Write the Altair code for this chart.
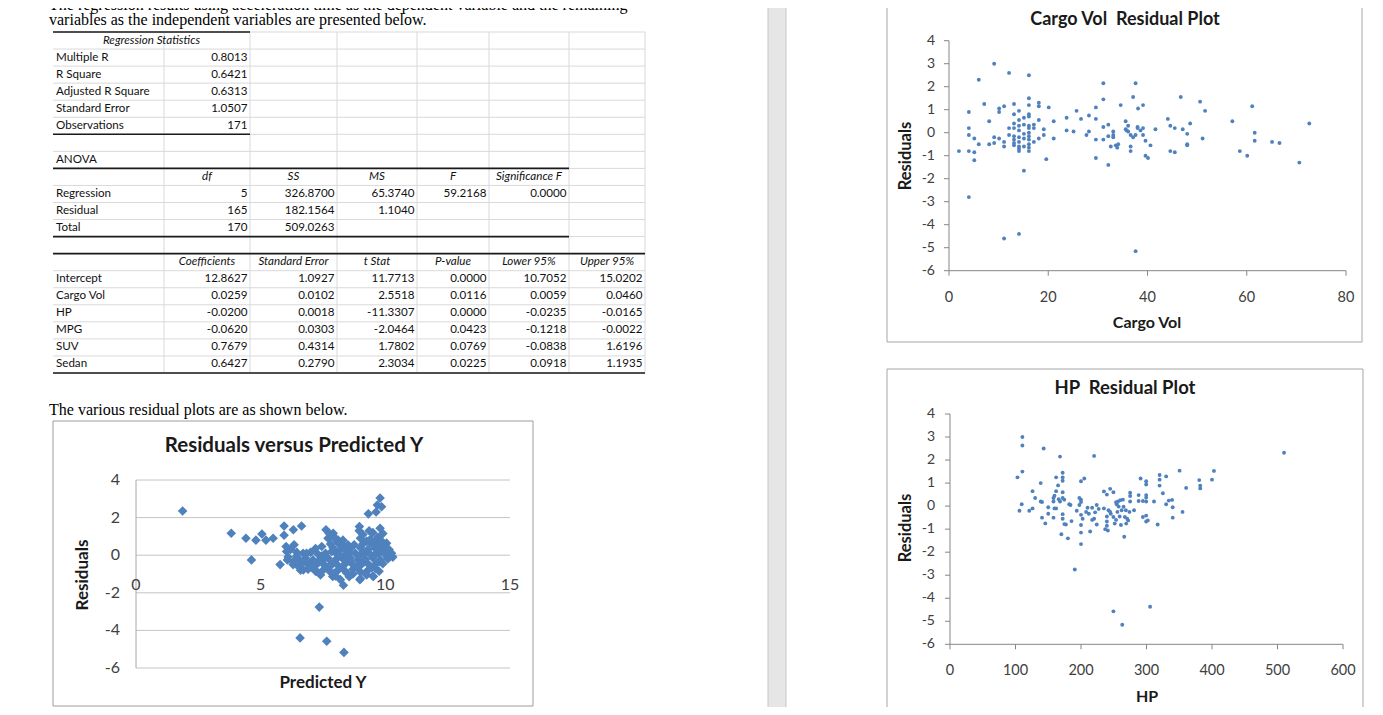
import altair as alt
import pandas as pd

# ---------------- document text ----------------
INTRO_1 = "The regression results using acceleration time as the dependent variable and the remaining"
INTRO_2 = "variables as the independent variables are presented below."
CAPTION = "The various residual plots are as shown below."

# ---------------- regression table ----------------
reg_stat_header = "Regression Statistics"
reg_stat_labels = ["Multiple R", "R Square", "Adjusted R Square", "Standard Error", "Observations"]
reg_stat_values = ["0.8013", "0.6421", "0.6313", "1.0507", "171"]

anova_title = "ANOVA"
anova_headers = ["df", "SS", "MS", "F", "Significance F"]
anova_rows = ["Regression", "Residual", "Total"]
anova_df = ["5", "165", "170"]
anova_ss = ["326.8700", "182.1564", "509.0263"]
anova_ms = ["65.3740", "1.1040", ""]
anova_f = ["59.2168", "", ""]
anova_sig = ["0.0000", "", ""]

coef_headers = ["Coefficients", "Standard Error", "t Stat", "P-value", "Lower 95%", "Upper 95%"]
coef_rows = ["Intercept", "Cargo Vol", "HP", "MPG", "SUV", "Sedan"]
coefficients = ["12.8627", "0.0259", "-0.0200", "-0.0620", "0.7679", "0.6427"]
std_errors = ["1.0927", "0.0102", "0.0018", "0.0303", "0.4314", "0.2790"]
t_stats = ["11.7713", "2.5518", "-11.3307", "-2.0464", "1.7802", "2.3034"]
p_values = ["0.0000", "0.0116", "0.0000", "0.0423", "0.0769", "0.0225"]
lower95 = ["10.7052", "0.0059", "-0.0235", "-0.1218", "-0.0838", "0.0918"]
upper95 = ["15.0202", "0.0460", "-0.0165", "-0.0022", "1.6196", "1.1935"]

# ---------------- chart texts / ticks ----------------
pred_title = "Residuals versus Predicted Y"
pred_xtitle = "Predicted Y"
cargo_title = "Cargo Vol\u00a0 Residual Plot"
cargo_xtitle = "Cargo Vol"
hp_title = "HP\u00a0 Residual Plot"
hp_xtitle = "HP"
resid_title = "Residuals"

pred_xticks = [0, 5, 10, 15]
pred_yticks = [-6, -4, -2, 0, 2, 4]
cargo_xticks = [0, 20, 40, 60, 80]
hp_xticks = [0, 100, 200, 300, 400, 500, 600]
resid_yticks = [-6, -5, -4, -3, -2, -1, 0, 1, 2, 3, 4]

# ---------------- residual data ----------------
# (predicted Y, residual)
pred_points = [
    (1.87, 2.35), (3.82, 1.17), (4.41, 0.9), (4.63, -0.25), (4.81, 0.8), (5.05, 1.13), (5.21, 0.8),
    (5.5, 0.9), (5.78, -0.5), (5.94, 1.55), (5.94, 1.06), (6.02, 0.46), (6.04, 0.2), (6.07, -0.25),
    (6.31, 1.35), (6.34, 0.55), (6.44, -0.05), (6.51, -0.6), (6.64, 1.55), (6.58, -4.4), (6.71, -0.78),
    (6.84, 0.1), (6.98, -0.42), (7.11, -0.6), (7.25, -0.85), (7.35, -2.76), (7.45, 0.46), (7.51, -0.25),
    (7.62, 1.35), (7.65, -4.58), (7.78, -0.6), (7.89, -1.13), (7.91, 1.17), (8.11, 0.8), (8.32, -1.6),
    (8.34, -5.17), (8.45, -0.95), (8.96, 1.52), (8.98, -1.3), (9.32, 2.2), (9.52, -1.13), (9.63, 2.3),
    (9.68, 2.67), (9.79, 3.04), (9.85, 2.58), (9.79, 1.43), (10.05, 0.64), (10.25, 0.1),
    (6.6, -0.8), (6.9, -0.75), (7.2, -0.85), (7.5, -0.8), (7.8, -0.9), (8.1, -0.8), (8.4, -0.85),
    (8.7, -0.75), (9.0, -0.9), (9.3, -0.8), (9.6, -0.7),
    (6.3, -0.5), (6.6, -0.45), (6.9, -0.5), (7.2, -0.55), (7.5, -0.45), (7.8, -0.5), (8.1, -0.55),
    (8.4, -0.45), (8.7, -0.5), (9.0, -0.55), (9.3, -0.45), (9.6, -0.5), (9.9, -0.45),
    (6.5, -0.2), (6.8, -0.15), (7.1, -0.25), (7.4, -0.2), (7.7, -0.15), (8.0, -0.25), (8.3, -0.2),
    (8.6, -0.15), (8.9, -0.25), (9.2, -0.2), (9.5, -0.15), (9.8, -0.25), (10.1, -0.2),
    (6.7, 0.1), (7.0, 0.15), (7.3, 0.05), (7.6, 0.1), (8.0, 0.15), (8.4, 0.05), (8.8, 0.1),
    (9.1, 0.15), (9.4, 0.05), (9.7, 0.1), (10.0, 0.15),
    (7.2, 0.35), (7.9, 0.4), (8.2, 0.3), (8.6, 0.35), (9.0, 0.4), (9.3, 0.3), (9.6, 0.35), (9.9, 0.4),
    (7.8, 0.6), (8.1, 0.65), (8.5, 0.55), (9.1, 0.6), (9.4, 0.65), (9.8, 0.55),
    (7.7, 0.9), (8.0, 0.85), (8.3, 0.8), (9.0, 0.9), (9.4, 0.85), (9.7, 0.95),
    (7.75, 1.15), (9.1, 1.1), (9.5, 1.2), (9.9, 1.15), (8.95, 1.3), (9.35, 1.3),
    (7.4, -1.05), (8.0, -1.1), (8.7, -1.0), (9.25, -1.05), (9.5, -1.1), (8.2, -1.3), (9.0, -1.25),
    (6.1, -0.1), (6.2, 0.3), (6.3, -0.35), (6.45, 0.15), (7.9, 1.05), (8.1, 0.75), (8.3, 0.5),
    (8.45, 0.25), (10.2, 0.05), (10.3, -0.1),
    (6.75, -0.3), (7.05, -0.65), (7.35, -0.35), (7.65, -0.65), (7.95, -0.35), (8.25, -0.65),
    (8.55, -0.3), (8.85, -0.65), (9.15, -0.35), (9.45, -0.65), (9.75, -0.35), (10.05, -0.05),
    (7.45, -0.05), (7.85, 0.2), (8.15, 0.0), (8.55, 0.15), (8.95, -0.05), (9.25, 0.2), (9.55, 0.0),
    (9.85, 0.2), (8.75, 0.55), (9.25, 0.75), (9.55, 0.5), (9.65, 0.8), (9.2, -0.95), (8.55, -1.15),
    (7.95, -0.95), (9.75, -0.85), (9.85, 0.75), (10.15, 0.3),
]

# (cargo volume, residual)
cargo_points = [
    (2.0, -0.8), (4.0, 0.9), (4.0, 0.2), (4.0, -0.1), (4.0, -0.8), (4.0, -2.8), (5.1, -0.25), (5.1, -0.85),
    (5.1, -1.2), (6.0, 2.3), (6.0, -0.5), (7.1, 1.25), (8.1, 0.5), (8.1, -0.5), (9.1, 3.0), (9.1, -0.2),
    (9.1, -0.45), (10.1, 1.05), (10.1, 0.9), (10.1, -0.25), (11.1, 1.15), (11.1, -0.4), (11.1, -0.6),
    (11.1, -4.6), (12.1, 2.6), (12.1, 0.2), (12.1, -0.1), (13.1, 1.25), (13.1, 0.8), (13.1, 0.4),
    (13.1, 0.2), (13.1, -0.15), (13.1, -0.3), (13.1, -0.45), (13.1, -0.55), (14.1, 0.95), (14.1, 0.55),
    (14.1, 0.3), (14.1, 0.1), (14.1, -0.2), (14.1, -0.4), (14.1, -0.6), (14.1, -0.7), (14.1, -0.8),
    (14.1, -4.4), (15.1, 0.65), (15.1, 0.35), (15.1, -0.05), (15.1, -0.25), (15.1, -0.6), (15.1, -1.65),
    (16.1, 2.5), (16.1, 1.5), (16.1, 1.2), (16.1, 0.8), (16.1, 0.7), (16.1, 0.3), (16.1, 0.2), (16.1, 0.0),
    (16.1, -0.15), (16.1, -0.3), (16.1, -0.5), (16.1, -0.65), (16.1, -0.8), (17.1, 0.35), (17.1, 0.2),
    (17.1, -0.4), (18.1, 1.3), (18.1, 1.15), (18.1, 0.55), (18.1, -0.25), (19.1, 0.15), (19.1, -0.1),
    (19.6, -1.15), (20.1, 1.1), (21.1, 0.5), (21.1, -0.25),
    (23.7, 0.65), (23.7, 0.1), (25.1, 0.05), (25.7, 0.95), (26.6, 0.6), (27.7, -0.1), (28.2, 0.75),
    (28.2, 0.05), (29.6, 1.1), (29.6, 0.6), (29.6, -0.3), (29.6, -1.1), (31.1, 2.15), (31.1, 1.45),
    (31.1, 0.25), (31.1, -0.3), (32.1, 0.35), (32.1, -0.15), (32.1, -1.4), (32.6, -0.6), (33.1, 0.05),
    (33.1, -0.1), (33.1, -0.2), (33.6, -0.55), (33.9, -0.65), (34.1, -0.5), (34.6, 1.2), (35.6, 0.5),
    (35.6, 0.15), (35.8, 0.1), (36.1, 0.3), (36.1, 0.05), (36.6, -0.1), (36.6, -0.6), (36.6, -0.8),
    (37.1, 1.55), (37.1, -0.2), (37.6, 2.15), (37.6, -0.1), (37.6, -5.15), (38.0, 0.25), (38.0, 0.2),
    (38.1, 1.05), (38.6, 0.1), (39.1, 1.2), (39.1, 0.2), (39.1, -0.1), (39.6, -0.35), (39.6, -1.0),
    (40.1, -1.1), (40.6, -0.55), (41.6, 0.15),
    (44.1, 0.6), (44.6, 0.3), (44.6, -0.8), (45.5, 0.2), (45.5, -0.85), (46.7, 1.55), (47.1, 0.15),
    (48.0, -0.05), (48.0, -0.5), (48.0, -0.55), (48.6, 0.4), (50.6, 1.35), (51.1, -0.25), (51.6, 0.95),
    (57.1, 0.5), (58.6, -0.8), (60.1, -1.0), (61.1, 1.15), (61.6, 0.0), (61.6, -0.35), (65.1, -0.4),
    (66.6, -0.45), (70.6, -1.3), (72.6, 0.4),
]

# (horsepower, residual)
hp_points = [
    (103, 1.25), (106, -0.2), (110.5, 3.0), (110.5, 2.63), (110.5, 1.5), (109.5, 0.08), (121, -0.2),
    (126, 0.65), (126, -0.1), (130, 0.35), (138.5, 1.0), (138.5, 0.2), (140.5, 0.18), (140.5, -0.5),
    (143, 2.5), (145.5, -0.75), (150, -0.05), (150, -0.33), (158, 0.35), (158, 0.2), (158, -0.5),
    (159.5, 0.45), (159.5, -0.1), (162, 1.25), (162, 0.65), (162, -0.1), (165, 0.9), (166, 0.3),
    (168, 2.15), (168, 0.2), (170, -1.22), (172, 1.45), (172, 1.25), (172, 1.1), (172, 0.6), (172, 0.35),
    (172, -0.35), (172, -0.55), (174.5, 0.28), (174.5, -0.78), (177, -0.8), (180, -1.4), (182, 0.08),
    (184, 0.05), (185.5, -0.65), (190.5, -2.75), (193.5, -0.2), (197.5, 0.35), (197.5, 0.05), (200, 1.08),
    (200, 0.28), (200, 0.18), (200, -0.38), (200, -0.82), (200, -1.15), (200, -1.65), (202.5, -0.55),
    (205, 1.2), (207.8, -0.25), (210, -0.07), (212, -0.33), (214, -1.1), (217, -0.07), (217, -0.6),
    (220, 2.18), (220, -0.55), (221.5, -0.27), (224, 0.05), (224, -0.8), (227, -0.12), (235, 0.64),
    (235, -0.1), (237, -1.0), (239.5, 0.5), (239.5, -0.45), (239.5, -0.67), (239.5, -0.85), (241, -1.06),
    (242, -0.18), (244.5, 0.75), (244.5, -0.25), (245.5, -0.33), (249.5, 0.6), (249.5, -0.47),
    (249.5, -4.57), (251.5, -0.76), (253.5, 0.17), (253.5, -0.6), (254.5, 0.08), (255.5, -0.25),
    (256.5, 0.2), (257.5, -0.02), (259, -0.45), (260, 0.26), (261, -0.82), (262, -0.18), (263, -5.15),
    (264, 0.28), (265, -0.03), (266, -1.33), (267, -0.47), (268.5, -0.18), (269, -0.76), (270.5, -0.55),
    (272, -0.62), (274, -0.25), (275, 0.58), (275, 0.2), (275, 0.44), (281, -0.18), (288, 0.48),
    (288, 0.22), (291, 1.2), (294.5, 0.22), (294.5, -0.47), (299.5, 1.08), (299.5, 0.94), (299.5, 0.48),
    (299.5, 0.37), (299.5, 0.2), (299.5, -0.41), (299.5, -0.67), (302, -0.62), (305.5, -4.37),
    (311.5, 0.2), (317, -0.8), (320, 1.35), (320, 1.15), (320, 0.89), (325, 0.56), (330, 1.29),
    (330, 0.08), (334, 0.24), (339, 0.27), (340, -0.05), (340, -0.5), (350.5, 1.54), (355, -0.25),
    (360.5, 0.79), (380.5, 1.13), (382, 0.89), (382, 0.77), (400, 1.15), (403, 1.53), (510, 2.32),
]

# ---------------- layout (page pixels) & style ----------------
OFF = 8                      # page margin
W, H = 1367, 699             # canvas size
BLUE = "#4F81BD"
UI = "Lato"
SERIF = "Liberation Serif"
COL_EDGES = [53, 164, 250, 337, 417, 489, 569, 645]
ROW_TOP, ROW_H, N_ROWS = 32, 17.05, 20


def P(v):
    return v - OFF


def XN(f):
    return alt.X(f, scale=None, axis=None)


def YN(f):
    return alt.Y(f, scale=None, axis=None)


def row_c(i):
    return P(ROW_TOP + (i + 0.5) * ROW_H)


def row_e(i):
    return P(ROW_TOP + i * ROW_H)


def text_layer(recs, **mk):
    df = pd.DataFrame(recs, columns=["x", "y", "t"])
    return alt.Chart(df).mark_text(**mk).encode(x=XN("x:Q"), y=YN("y:Q"), text="t:N")


def hrules(recs, **mk):
    df = pd.DataFrame(recs, columns=["x", "x2", "y"])
    return alt.Chart(df).mark_rule(**mk).encode(x=XN("x:Q"), x2="x2:Q", y=YN("y:Q"))


def vrules(recs, **mk):
    df = pd.DataFrame(recs, columns=["x", "y", "y2"])
    return alt.Chart(df).mark_rule(**mk).encode(x=XN("x:Q"), y=YN("y:Q"), y2="y2:Q")


def box(x0, y0, x1, y1, **mk):
    df = pd.DataFrame({"x": [x0], "x2": [x1], "y": [y0], "y2": [y1]})
    return alt.Chart(df).mark_rect(**mk).encode(x=XN("x:Q"), x2="x2:Q", y=YN("y:Q"), y2="y2:Q")


layers = []

# page separator band
layers.append(box(P(768), -3, P(786), H + 3, fill="#e6e6e6", stroke="#c6c6c6", strokeWidth=1))

# intro paragraph (first line is cut by the top edge, as in the original) and caption
layers.append(text_layer([(P(49), 1.5, INTRO_1), (P(49), P(25), INTRO_2), (P(49), P(414.5), CAPTION)],
                         align="left", baseline="alphabetic", font=SERIF, fontSize=16, color="#000000"))

# ---------------- table ----------------
layers.append(hrules([(P(53), P(645), row_e(i)) for i in range(N_ROWS + 1)], color="#d9d9d9", strokeWidth=1))
layers.append(vrules([(P(x), row_e(0), row_e(N_ROWS)) for x in COL_EDGES[1:]], color="#d9d9d9", strokeWidth=1))
layers.append(hrules([
    (P(53), P(250), row_e(0)), (P(53), P(250), row_e(6)),
    (P(53), P(569), row_e(8)), (P(53), P(569), row_e(12)),
    (P(53), P(645), row_e(13)), (P(53), P(645), row_e(20)),
], color="#1a1a1a", strokeWidth=1.6))

left_recs = [(P(56), row_c(1 + i), s) for i, s in enumerate(reg_stat_labels)]
left_recs.append((P(56), row_c(7), anova_title))
left_recs += [(P(56), row_c(9 + i), s) for i, s in enumerate(anova_rows)]
left_recs += [(P(56), row_c(14 + i), s) for i, s in enumerate(coef_rows)]
layers.append(text_layer(left_recs, align="left", baseline="middle", font=UI, fontSize=11.6, color="#111111"))

rights = [P(e - 2.5) for e in COL_EDGES[2:]]
right_recs = [(rights[0], row_c(1 + i), v) for i, v in enumerate(reg_stat_values)]
for j, col in enumerate([anova_df, anova_ss, anova_ms, anova_f, anova_sig]):
    right_recs += [(rights[j], row_c(9 + i), v) for i, v in enumerate(col) if v]
for j, col in enumerate([coefficients, std_errors, t_stats, p_values, lower95, upper95]):
    right_recs += [(rights[j], row_c(14 + i), v) for i, v in enumerate(col)]
layers.append(text_layer(right_recs, align="right", baseline="middle", font=UI, fontSize=11.6, color="#111111"))

centers = [P((COL_EDGES[k] + COL_EDGES[k + 1]) / 2) for k in range(1, 7)]
head_recs = [(P((53 + 250) / 2), row_c(0), reg_stat_header)]
head_recs += [(centers[j], row_c(8), s) for j, s in enumerate(anova_headers)]
head_recs += [(centers[j], row_c(13), s) for j, s in enumerate(coef_headers)]
layers.append(text_layer(head_recs, align="center", baseline="middle", font=UI, fontSize=11.6,
                         fontStyle="italic", color="#111111"))


# ---------------- generic scatter panel pieces ----------------
def lin(dom, r0, r1):
    return alt.Scale(domain=dom, range=[r0, r1], nice=False, zero=False)


def scatter(points, sx, sy, **mk):
    df = pd.DataFrame(points, columns=["x", "r"])
    return alt.Chart(df).mark_point(filled=True, opacity=1, color=BLUE, **mk).encode(
        x=alt.X("x:Q", scale=sx, axis=None), y=alt.Y("r:Q", scale=sy, axis=None))


def ylabels(ticks, sy, xpix, size):
    df = pd.DataFrame({"v": ticks, "t": [str(v) for v in ticks]})
    return alt.Chart(df).mark_text(align="right", baseline="middle", font=UI, fontSize=size, color="#404040").encode(
        y=alt.Y("v:Q", scale=sy, axis=None), x=alt.value(xpix), text="t:N")


def xlabels(ticks, sx, ypix, size):
    df = pd.DataFrame({"v": ticks, "t": [str(v) for v in ticks]})
    return alt.Chart(df).mark_text(align="center", baseline="middle", font=UI, fontSize=size, color="#404040").encode(
        x=alt.X("v:Q", scale=sx, axis=None), y=alt.value(ypix), text="t:N")


def label(x, y, s, size, angle=0, weight="bold", color="#1a1a1a"):
    df = pd.DataFrame({"t": [s]})
    mk = dict(align="center", baseline="middle", font=UI, fontSize=size, fontWeight=weight, color=color)
    if angle:
        mk["angle"] = angle
    return alt.Chart(df).mark_text(**mk).encode(x=alt.value(x), y=alt.value(y), text="t:N")


def axes_layers(sx, sy, xticks, x0, y_bot, xdom):
    out = []
    out.append(alt.Chart(pd.DataFrame({"x": [0], "y": [-6], "y2": [4]})).mark_rule(color="#868686").encode(
        x=alt.X("x:Q", scale=sx, axis=None), y=alt.Y("y:Q", scale=sy, axis=None), y2="y2:Q"))
    out.append(alt.Chart(pd.DataFrame({"x": [xdom[0]], "x2": [xdom[1]], "y": [-6]})).mark_rule(color="#868686").encode(
        x=alt.X("x:Q", scale=sx, axis=None), x2="x2:Q", y=alt.Y("y:Q", scale=sy, axis=None)))
    out.append(alt.Chart(pd.DataFrame({"v": resid_yticks})).mark_rule(color="#868686").encode(
        y=alt.Y("v:Q", scale=sy, axis=None), x=alt.value(x0 - 5), x2=alt.value(x0)))
    out.append(alt.Chart(pd.DataFrame({"v": xticks})).mark_rule(color="#868686").encode(
        x=alt.X("v:Q", scale=sx, axis=None), y=alt.value(y_bot), y2=alt.value(y_bot + 5)))
    return out


# ---------------- Residuals versus Predicted Y ----------------
px0, px1, py_bot, py_top = P(136), P(510), P(668), P(480)
sx_p = lin([0, 15], px0, px1)
sy_p = lin([-6, 4], py_bot, py_top)
layers.append(box(P(53), P(421), P(533), P(706), fill="#ffffff", stroke="#9c9c9c", strokeWidth=1))
layers.append(alt.Chart(pd.DataFrame({"v": pred_yticks})).mark_rule(color="#c4c4c4", strokeWidth=1).encode(
    y=alt.Y("v:Q", scale=sy_p, axis=None), x=alt.value(px0), x2=alt.value(px1)))
layers.append(alt.Chart(pd.DataFrame({"x": [0], "y": [-6], "y2": [4]})).mark_rule(color="#a6a6a6").encode(
    x=alt.X("x:Q", scale=sx_p, axis=None), y=alt.Y("y:Q", scale=sy_p, axis=None), y2="y2:Q"))
layers.append(ylabels(pred_yticks, sy_p, P(120), 16))
layers.append(xlabels(pred_xticks, sx_p, P(585), 16))
layers.append(scatter(pred_points, sx_p, sy_p, shape="diamond", size=92))
layers.append(label(P(294), P(446), pred_title, 20.5))
layers.append(label(P(323), P(683), pred_xtitle, 17))
layers.append(label(P(83), P(575), resid_title, 17, angle=270))

# ---------------- Cargo Vol residual plot ----------------
cx0, cx1, cy_bot, cy_top = P(949), P(1346), P(270.7), P(40.7)
sx_c = lin([0, 80], cx0, cx1)
sy_c = lin([-6, 4], cy_bot, cy_top)
layers.append(box(P(887), -3, P(1362), P(342), fill="#ffffff", stroke="#a6a6a6", strokeWidth=1))
layers += axes_layers(sx_c, sy_c, cargo_xticks, cx0, cy_bot, [0, 80])
layers.append(ylabels(resid_yticks, sy_c, P(935), 14))
layers.append(xlabels(cargo_xticks, sx_c, P(298), 14.5))
layers.append(scatter(cargo_points, sx_c, sy_c, shape="circle", size=15))
layers.append(label(P(1125), P(19.5), cargo_title, 18))
layers.append(label(P(1147), P(323), cargo_xtitle, 16))
layers.append(label(P(906), P(156), resid_title, 16.5, angle=270))

# ---------------- HP residual plot ----------------
hx0, hx1, hy_bot, hy_top = P(950), P(1343), P(644.3), P(414)
sx_h = lin([0, 600], hx0, hx1)
sy_h = lin([-6, 4], hy_bot, hy_top)
layers.append(box(P(887), P(369), P(1363), H + 3, fill="#ffffff", stroke="#a6a6a6", strokeWidth=1))
layers += axes_layers(sx_h, sy_h, hp_xticks, hx0, hy_bot, [0, 600])
layers.append(ylabels(resid_yticks, sy_h, P(935), 14))
layers.append(xlabels(hp_xticks, sx_h, P(671), 14.5))
layers.append(scatter(hp_points, sx_h, sy_h, shape="circle", size=15))
layers.append(label(P(1125), P(388), hp_title, 18.5))
layers.append(label(P(1147), P(697), hp_xtitle, 16))
layers.append(label(P(906), P(528), resid_title, 16.5, angle=270))

chart = (
    alt.layer(*layers)
    .resolve_scale(x="independent", y="independent")
    .properties(width=W, height=H, padding=0, autosize=alt.AutoSizeParams(type="none"), background="#ffffff")
    .configure_view(strokeWidth=0)
)

chart.save("out.html", embed_options={"renderer": "svg", "actions": False})
